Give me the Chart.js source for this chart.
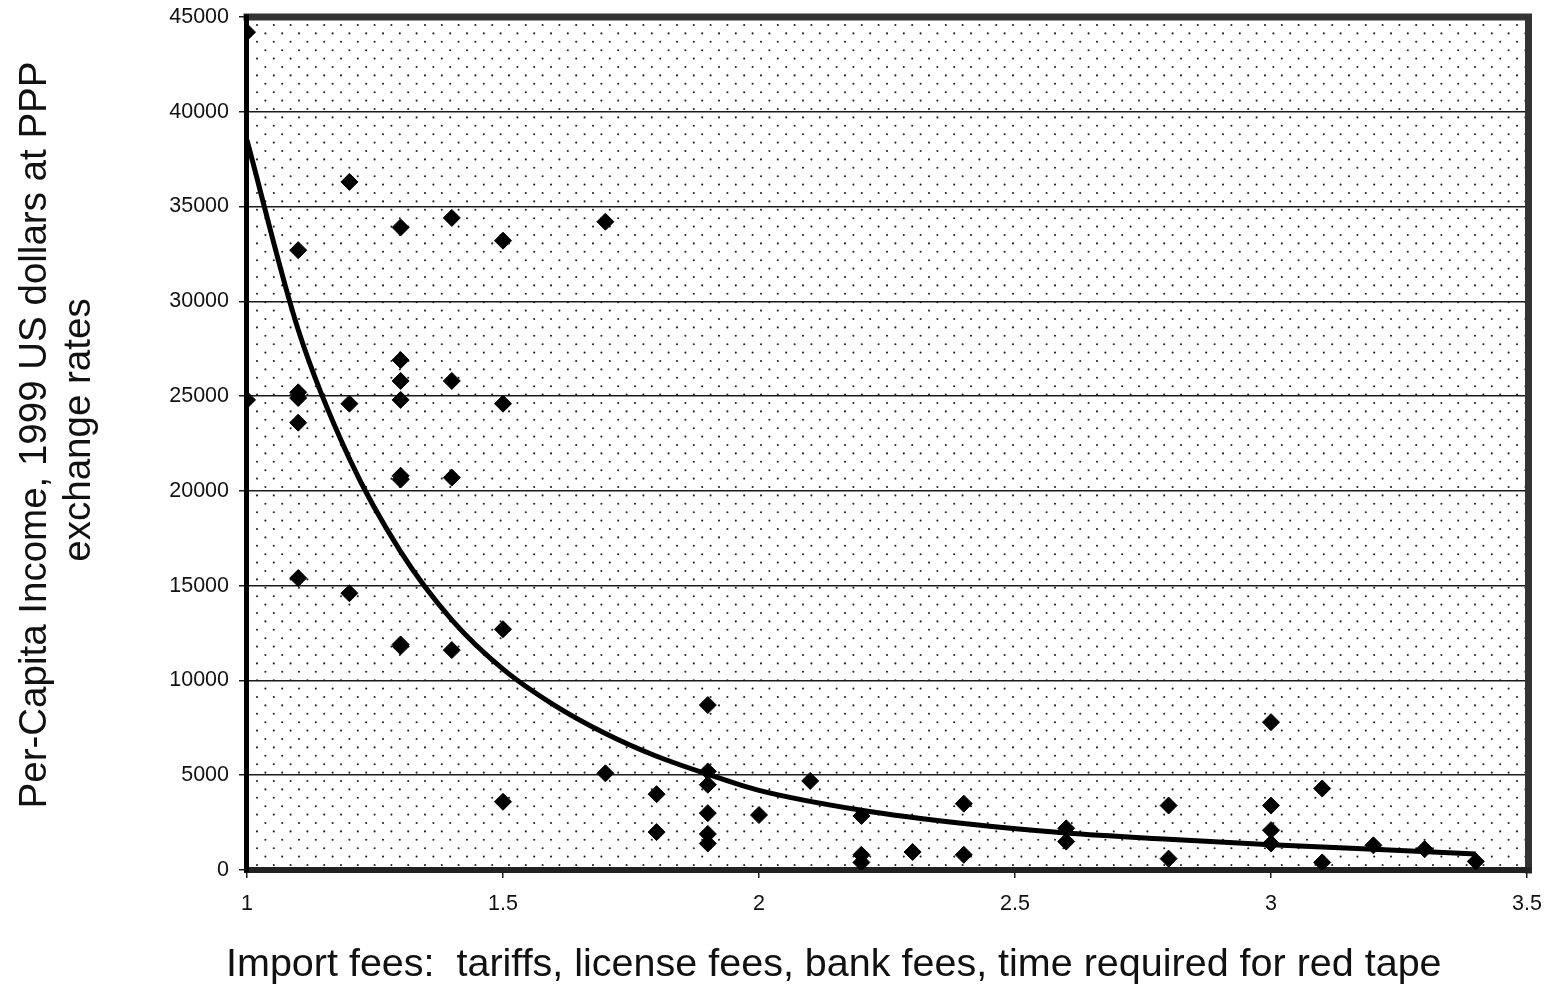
<!DOCTYPE html>
<html>
<head>
<meta charset="utf-8">
<script src="https://cdn.jsdelivr.net/npm/chart.js@4.4.1/dist/chart.umd.min.js"></script>
<style>
  html, body { margin: 0; padding: 0; background: #fff; }
  #wrap { width: 1552px; height: 984px; position: relative; }
</style>
</head>
<body>
<div id="wrap"><canvas id="c" width="1552" height="984"></canvas></div>
<script>
// ---- Data ----
const pointX = [
  1.0, 1.0,
  1.1, 1.1, 1.1, 1.1, 1.1,
  1.2, 1.2, 1.2,
  1.3, 1.3, 1.3, 1.3, 1.3, 1.3, 1.3, 1.3,
  1.4, 1.4, 1.4, 1.4,
  1.5, 1.5, 1.5, 1.5,
  1.7, 1.7,
  1.8, 1.8,
  1.9, 1.9, 1.9, 1.9, 1.9, 1.9,
  2.0,
  2.1,
  2.2, 2.2, 2.2,
  2.3,
  2.4, 2.4,
  2.6, 2.6,
  2.8, 2.8,
  3.0, 3.0, 3.0, 3.0,
  3.1, 3.1,
  3.2,
  3.3,
  3.4
];
const pointY = [
  44200, 24800,
  32700, 25200, 24900, 23600, 15400,
  36300, 24600, 14600,
  33900, 26900, 25800, 24800, 20800, 20600, 11900, 11800,
  34400, 25800, 20700, 11600,
  33200, 24600, 12700, 3600,
  34200, 5100,
  4000, 2000,
  8700, 5200, 4500, 3000, 1900, 1400,
  2900,
  4700,
  2850, 800, 400,
  950,
  3500, 800,
  2200, 1500,
  3400, 600,
  7800, 3400, 2100, 1400,
  4300, 400,
  1300,
  1100,
  450
];
// trend curve
const trendX = [1.0, 1.1, 1.2, 1.3, 1.4, 1.5, 1.6, 1.7, 1.8, 1.9, 2.0, 2.2, 2.4, 2.6, 2.8, 3.0, 3.2, 3.4];
const trendY = [38500, 28500, 21700, 16800, 13200, 10600, 8700, 7200, 6000, 5050, 4200, 3150, 2450, 1950, 1620, 1330, 1090, 850];

const xTickValues = [1, 1.5, 2, 2.5, 3, 3.5];
const xTickLabels = ['1', '1.5', '2', '2.5', '3', '3.5'];
const yTickValues = [0, 5000, 10000, 15000, 20000, 25000, 30000, 35000, 40000, 45000];
const yTickLabels = ['0', '5000', '10000', '15000', '20000', '25000', '30000', '35000', '40000', '45000'];

const xTitle = 'Import fees:  tariffs, license fees, bank fees, time required for red tape';
const yTitle = ['Per-Capita Income, 1999 US dollars at PPP', 'exchange rates'];

const FONT = "'Liberation Sans', Arial, Helvetica, sans-serif";
const TEXT = '#111111';

// ---- Styling plugins ----
const dottedBackground = {
  id: 'dottedBackground',
  beforeDraw(chart) {
    const { ctx, chartArea: a } = chart;
    ctx.save();
    ctx.fillStyle = '#ffffff';
    ctx.fillRect(a.left, a.top, a.right - a.left, a.bottom - a.top);
    ctx.beginPath();
    ctx.rect(a.left, a.top, a.right - a.left, a.bottom - a.top);
    ctx.clip();
    ctx.fillStyle = '#222222';
    const dx = 16.8, dy = 8.4;
    let row = 0;
    for (let y = a.top + 8; y < a.bottom; y += dy, row++) {
      const off = (row % 2) ? dx / 2 : 0;
      for (let x = a.left + 10 + off; x < a.right; x += dx) {
        ctx.beginPath();
        ctx.arc(x, y, 1.05, 0, Math.PI * 2);
        ctx.fill();
      }
    }
    ctx.restore();
  }
};

const frame = {
  id: 'frame',
  beforeDatasetsDraw(chart) {
    const { ctx, chartArea: a } = chart;
    ctx.save();
    ctx.lineCap = 'square';
    ctx.strokeStyle = '#333333';
    ctx.lineWidth = 7;
    ctx.beginPath();
    ctx.moveTo(a.left, a.top);
    ctx.lineTo(a.right + 1.5, a.top);
    ctx.lineTo(a.right + 1.5, a.bottom);
    ctx.stroke();
    ctx.strokeStyle = '#222222';
    ctx.lineWidth = 6;
    ctx.beginPath();
    ctx.moveTo(a.left, a.bottom);
    ctx.lineTo(a.right + 1.5, a.bottom);
    ctx.stroke();
    ctx.strokeStyle = '#000000';
    ctx.lineWidth = 5;
    ctx.beginPath();
    ctx.moveTo(a.left - 0.5, a.top);
    ctx.lineTo(a.left - 0.5, a.bottom);
    ctx.stroke();
    ctx.restore();
  }
};

// axis titles placed where the reference has them
const axisTitles = {
  id: 'axisTitles',
  afterDraw(chart) {
    const { ctx } = chart;
    ctx.save();
    ctx.fillStyle = TEXT;
    ctx.textBaseline = 'alphabetic';
    ctx.font = '39.5px ' + FONT;
    ctx.textAlign = 'left';
    ctx.fillText(xTitle, 226, 976);
    ctx.font = '38.5px ' + FONT;
    ctx.textAlign = 'center';
    ctx.save();
    ctx.translate(46, 435);
    ctx.rotate(-Math.PI / 2);
    ctx.fillText(yTitle[0], 0, 0);
    ctx.restore();
    ctx.save();
    ctx.translate(90, 430);
    ctx.rotate(-Math.PI / 2);
    ctx.fillText(yTitle[1], 0, 0);
    ctx.restore();
    ctx.restore();
  }
};

const points = pointX.map((x, i) => ({ x, y: pointY[i] }));
const trend = trendX.map((x, i) => ({ x, y: trendY[i] }));

new Chart(document.getElementById('c'), {
  type: 'scatter',
  data: {
    datasets: [
      {
        label: 'Trend',
        data: trend,
        showLine: true,
        borderColor: '#000000',
        borderWidth: 5,
        pointRadius: 0,
        cubicInterpolationMode: 'monotone',
        fill: false
      },
      {
        label: 'Countries',
        data: points,
        pointStyle: 'rectRot',
        pointRadius: 8.5,
        pointBorderWidth: 1,
        backgroundColor: '#000000',
        borderColor: '#000000'
      }
    ]
  },
  options: {
    responsive: false,
    animation: false,
    layout: { padding: { left: 0, right: 25, top: 17, bottom: 0 } },
    plugins: {
      legend: { display: false },
      tooltip: { enabled: false }
    },
    scales: {
      x: {
        type: 'linear',
        min: 1,
        max: 3.5,
        afterBuildTicks: (s) => { s.ticks = xTickValues.map(v => ({ value: v })); },
        afterFit: (s) => { s.height = 114; s.paddingLeft = 0; s.paddingRight = 0; },
        ticks: {
          callback: (v, i) => xTickLabels[i],
          font: { family: FONT, size: 21.5 },
          color: TEXT,
          padding: 13,
          maxRotation: 0,
          autoSkip: false
        },
        grid: {
          drawOnChartArea: false,
          drawTicks: true,
          tickLength: 8,
          color: '#1a1a1a',
          lineWidth: 1.5
        },
        border: { display: false },
        title: { display: false, text: xTitle }
      },
      y: {
        type: 'linear',
        min: 0,
        max: 45000,
        afterBuildTicks: (s) => { s.ticks = yTickValues.map(v => ({ value: v })); },
        afterFit: (s) => { s.width = 247; s.paddingTop = 0; s.paddingBottom = 0; },
        ticks: {
          callback: (v, i) => yTickLabels[i],
          font: { family: FONT, size: 21.5 },
          color: TEXT,
          padding: 10,
          autoSkip: false
        },
        grid: {
          drawTicks: true,
          tickLength: 8,
          color: '#1a1a1a',
          lineWidth: 1.5
        },
        border: { display: false },
        title: { display: false, text: yTitle }
      }
    }
  },
  plugins: [dottedBackground, frame, axisTitles]
});
</script>
</body>
</html>
